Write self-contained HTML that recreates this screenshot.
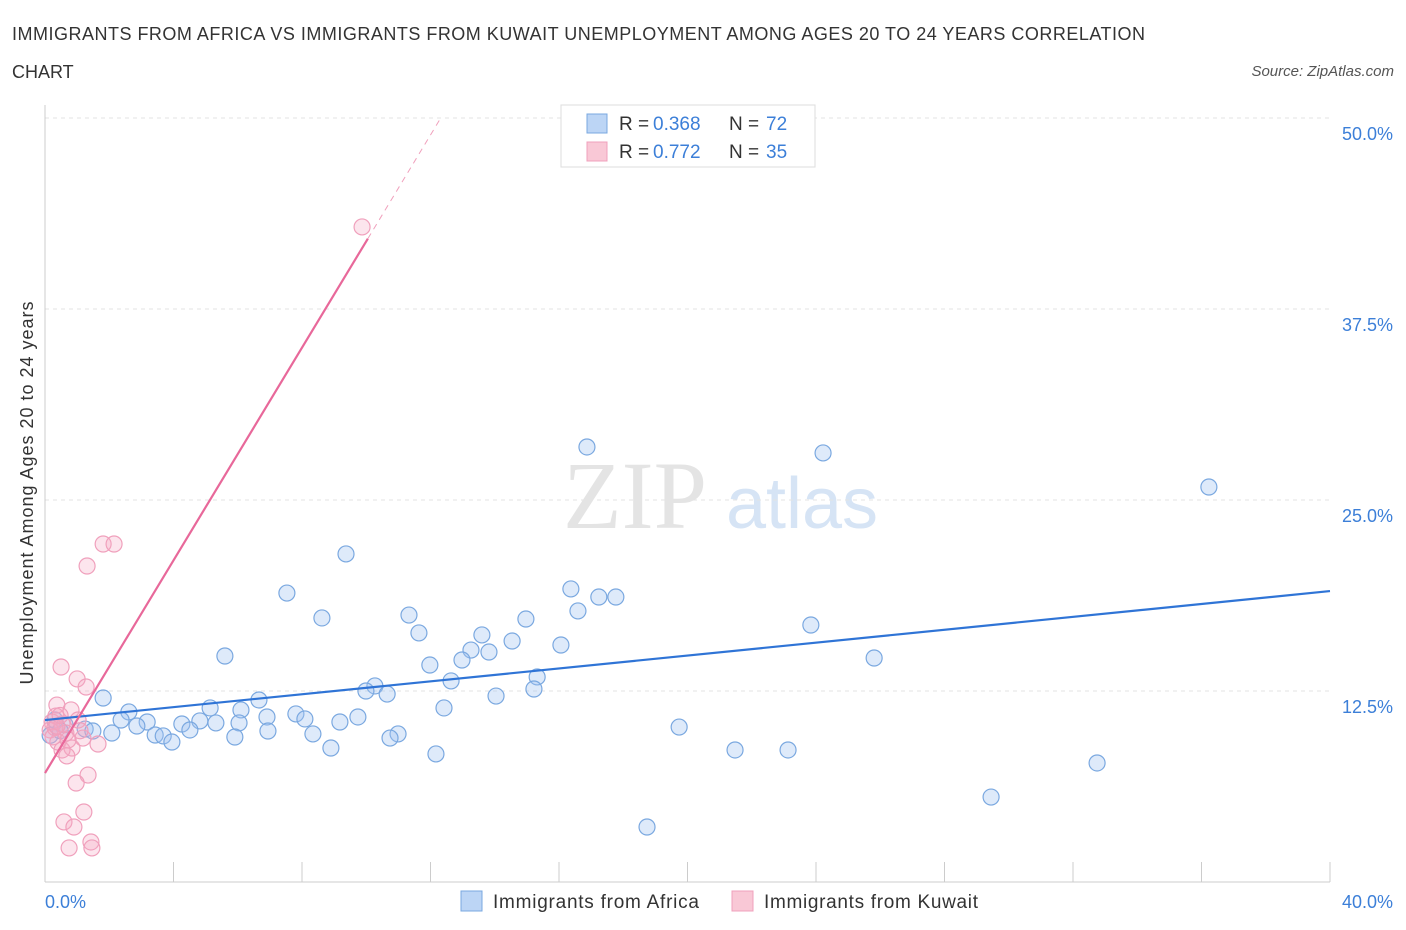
<!DOCTYPE html>
<html><head><meta charset="utf-8"><style>
body{margin:0;background:#fff;font-family:"Liberation Sans",sans-serif;}
svg{display:block}
</style></head><body>
<svg id="chart" width="1406" height="930">
<text x="12" y="40" font-size="18" fill="#333" textLength="1133">IMMIGRANTS FROM AFRICA VS IMMIGRANTS FROM KUWAIT UNEMPLOYMENT AMONG AGES 20 TO 24 YEARS CORRELATION</text>
<text x="12" y="78" font-size="18" fill="#333">CHART</text>
<text x="1394" y="76" font-size="15" fill="#555" font-style="italic" text-anchor="end">Source: ZipAtlas.com</text>
<text x="635" y="528" font-size="96" fill="#e4e4e4" font-family="Liberation Serif,serif" text-anchor="middle">ZIP</text>
<text x="802" y="528" font-size="72" fill="#d6e4f5" text-anchor="middle">atlas</text>
<g id="grid"></g><g id="axes"></g><g id="pts"></g><g id="lines"></g>
<text x="33" y="493" font-size="18" fill="#333" text-anchor="middle" textLength="383" transform="rotate(-90 33 493)">Unemployment Among Ages 20 to 24 years</text>
<g>
<rect x="561" y="105" width="254" height="62" fill="#fff" stroke="#ddd"/>
<rect x="587" y="114" width="20" height="19" fill="#bcd5f5" stroke="#7aa8e0"/>
<text x="619" y="130" font-size="19" fill="#333">R =</text>
<text x="653" y="130" font-size="19" fill="#3c7fd8">0.368</text>
<text x="729" y="130" font-size="19" fill="#333">N =</text>
<text x="766" y="130" font-size="19" fill="#3c7fd8">72</text>
<rect x="587" y="142" width="20" height="19" fill="#f9c8d6" stroke="#f0a0bc"/>
<text x="619" y="158" font-size="19" fill="#333">R =</text>
<text x="653" y="158" font-size="19" fill="#3c7fd8">0.772</text>
<text x="729" y="158" font-size="19" fill="#333">N =</text>
<text x="766" y="158" font-size="19" fill="#3c7fd8">35</text>
</g>
<g>
<rect x="461" y="891" width="21" height="20" fill="#bcd5f5" stroke="#7aa8e0"/>
<text x="493" y="908" font-size="19" fill="#333" textLength="206">Immigrants from Africa</text>
<rect x="732" y="891" width="21" height="20" fill="#f9c8d6" stroke="#f0a0bc"/>
<text x="764" y="908" font-size="19" fill="#333" textLength="214">Immigrants from Kuwait</text>
</g>
</svg>
<script>
const yTicks=[12.5,25,37.5,50];
const yTickLabels=["12.5%","25.0%","37.5%","50.0%"];
const xTickLabels=["0.0%","40.0%"];
const africaX=[16.87,24.22,36.23,9.37,7.53,16.37,17.24,17.77,16.59,11.33,8.62,14.97,23.84,11.64,13.60,14.54,16.06,13.26,13.82,5.60,12.98,25.81,11.98,15.32,12.64,10.27,15.22,9.99,10.65,1.81,6.66,14.04,5.14,6.10,2.61,12.42,6.91,7.81,8.09,9.74,2.37,3.18,4.82,5.32,4.26,9.18,6.04,19.74,2.86,1.25,4.51,6.94,2.08,1.49,8.34,10.99,3.43,3.68,10.74,5.91,3.95,8.90,21.48,23.13,12.17,32.75,29.45,18.74,0.31,0.62,0.16,0.47];
const africaY=[28.47,28.08,25.85,21.47,18.91,19.18,18.65,18.65,17.74,17.47,17.28,17.21,16.82,16.30,16.17,15.77,15.51,15.18,15.05,14.79,14.53,14.66,14.20,13.42,13.16,12.83,12.63,12.50,12.30,12.04,11.91,12.17,11.39,11.26,11.13,11.39,10.80,11.00,10.67,10.80,10.60,10.47,10.54,10.41,10.34,10.47,10.41,10.14,10.21,10.01,9.95,9.88,9.75,9.88,9.69,9.69,9.62,9.56,9.42,9.49,9.16,8.77,8.64,8.64,8.38,7.79,5.56,3.60,10.6,10.3,9.6,9.9];
const kuwaitX=[9.87,1.81,2.15,1.31,0.50,1.00,1.28,0.37,0.81,0.34,1.03,0.22,0.53,0.16,0.65,1.18,0.40,1.65,0.84,0.53,0.68,1.34,0.97,1.21,0.59,0.90,1.43,0.75,1.46,0.31,0.25,0.47,1.09,0.37,0.72];
const kuwaitY=[42.87,22.12,22.12,20.68,14.07,13.29,12.76,11.58,11.26,10.86,10.60,10.47,10.34,9.95,9.75,9.42,9.16,9.03,8.77,8.64,8.25,7.00,6.48,4.58,3.93,3.60,2.62,2.23,2.23,10.1,9.5,10.9,9.9,10.2,9.3];
const africaTrend=[10.6,19.04];
const kuwaitTrend=[7.13,3.48];
const NS="http://www.w3.org/2000/svg";
const X=v=>45+v*1285/40, Y=v=>882-v*764/50;
function mk(t,a,p){const e=document.createElementNS(NS,t);for(const k in a)e.setAttribute(k,a[k]);document.getElementById(p).appendChild(e);return e;}
yTicks.forEach((t,i)=>{
 const g=mk('line',{x1:45,x2:1330,y1:Y(t),y2:Y(t),stroke:'#e3e3e3','stroke-dasharray':'4,4'},'grid');
 
 
 const l=mk('text',{x:1393,y:Y(t)+22,'font-size':18,fill:'#3c7fd8','text-anchor':'end'},'axes');
 l.textContent=yTickLabels[i];
 
 
});
const ax=mk('line',{x1:45,x2:45,y1:105,y2:882,stroke:'#ccc'},'axes');


const bx=mk('line',{x1:45,x2:1330,y1:882,y2:882,stroke:'#ccc'},'axes');


for(let v=4;v<=40;v+=4){const t=mk('line',{x1:X(v),x2:X(v),y1:862,y2:882,stroke:'#ccc'},'axes');
 
 }
[[0,'start',45],[1,'end',1393]].forEach(([i,a,x])=>{const t=mk('text',{x:x,y:908,'font-size':18,fill:'#3c7fd8','text-anchor':a},'axes');t.textContent=xTickLabels[i];
 
 });
africaX.forEach((v,i)=>{const c=mk('circle',{cx:X(v),cy:Y(africaY[i]),r:8,fill:'rgba(160,196,240,0.35)',stroke:'#7aa8e0','stroke-width':1.2},'pts');
 
 });
kuwaitX.forEach((v,i)=>{const c=mk('circle',{cx:X(v),cy:Y(kuwaitY[i]),r:8,fill:'rgba(245,170,195,0.3)',stroke:'#f0a0bc','stroke-width':1.2},'pts');
 
 });
const bl=mk('line',{x1:X(0),y1:Y(africaTrend[0]),x2:X(40),y2:Y(africaTrend[1]),stroke:'#2f74d6','stroke-width':2.2},'lines');


const xe=10.05, xd=(50-kuwaitTrend[0])/kuwaitTrend[1];
const pl=mk('line',{x1:X(0),y1:Y(kuwaitTrend[0]),x2:X(xe),y2:Y(kuwaitTrend[0]+kuwaitTrend[1]*xe),stroke:'#e8689a','stroke-width':2.2},'lines');


const pd=mk('line',{x1:X(xe),y1:Y(kuwaitTrend[0]+kuwaitTrend[1]*xe),x2:X(xd),y2:Y(50),stroke:'#f0a0bc','stroke-width':1,'stroke-dasharray':'6,5'},'lines');


</script>
</body></html>
